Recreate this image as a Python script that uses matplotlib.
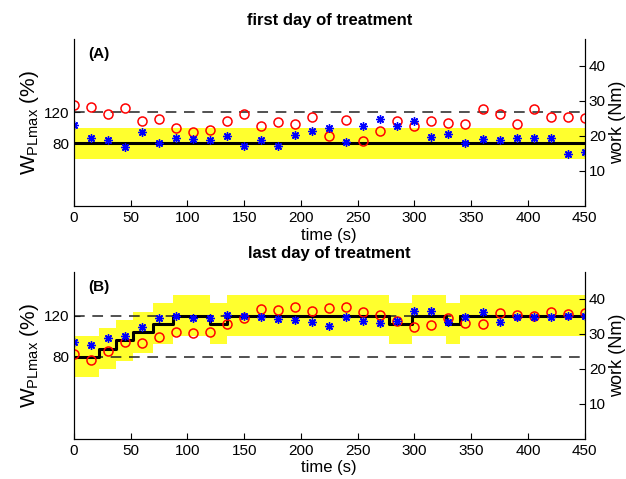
import matplotlib
matplotlib.use("Agg")
import matplotlib.pyplot as plt
import numpy as np

plt.rcParams["font.family"] = ["Liberation Sans", "DejaVu Sans"]
plt.rcParams["mathtext.fontset"] = "custom"
plt.rcParams["mathtext.rm"] = "Liberation Sans"

# --- data, values in % of W_PLmax ---
time_s = np.arange(0, 451, 15)

a_red = [129, 127, 118, 126, 108.5, 111.5, 100, 94.5, 97.5, 108.5, 117.5,
         102.5, 107.5, 105.5, 114, 90, 110, 83, 96, 109, 102.5,
         108.5, 106.5, 104.5, 124, 118, 104.5, 123.5, 114.5, 114, 113]
a_blue = [104, 87.5, 84, 75.5, 94.5, 80, 86.5, 86, 84, 89, 76.5,
          85, 76.5, 90.5, 96.5, 100, 81.5, 102, 111, 103, 109,
          88.5, 91.5, 80, 86, 84, 87, 87, 86.5, 67, 69]
a_target = 80
a_band = 20

b_red = [83, 77, 86, 94, 93, 99.5, 104.5, 103.5, 104.5, 112, 118,
         126.5, 126, 128, 125, 127.5, 128.5, 123.5, 121, 114.5, 109,
         111, 117.5, 112.5, 112, 123, 121, 120, 123.5, 122, 123]
b_blue = [94, 91.5, 98, 100, 109, 117.5, 119.5, 117.5, 117.5, 121, 120,
          119, 117, 115.5, 114, 110, 118.5, 114.5, 113, 114.5, 125,
          125, 114, 119, 124, 114, 118.5, 118.5, 118.5, 120, 120]
b_step_t = [0, 22.5, 37.5, 52.5, 70, 87.5, 120, 135, 278, 297.5, 328, 340, 450]
b_step_v = [80, 88, 96, 104, 112, 120, 112, 120, 112, 120, 112, 120, 120]
b_band = 20

ref_lines = [80, 120]
x_ticks = np.arange(0, 451, 50)
left_ticks = [80, 120]
right_ticks = [10, 20, 30, 40]

YELLOW = "#ffff2e"
ASTERISK = (8, 2, 0)  # MATLAB-style '*'


def draw_panel(ax, t_line, v_line, band, red, blue, dashed, left_top, tag, title):
    t_line = np.asarray(t_line, float)
    v_line = np.asarray(v_line, float)
    ax.fill_between(t_line, v_line - band, v_line + band, step="post",
                    color=YELLOW, linewidth=0, zorder=1)
    for d in dashed:
        ax.axhline(d, color="#222222", linestyle=(0, (7, 5)), linewidth=1.1, zorder=2)
    ax.step(t_line, v_line, where="post", color="black", linewidth=2.2, zorder=3)
    ax.plot(time_s, red, linestyle="none", marker="o", markersize=6.5,
            markerfacecolor="none", markeredgecolor="red", markeredgewidth=1.1, zorder=4)
    ax.plot(time_s, blue, linestyle="none", marker=ASTERISK, markersize=6,
            color="blue", markeredgewidth=1.0, zorder=5)

    ax.set_xlim(0, 450)
    ax.set_ylim(0, left_top)
    ax.set_xticks(x_ticks)
    ax.set_yticks(left_ticks)
    ax.tick_params(direction="in", labelsize=11, length=4)
    ax.set_xlabel("time (s)", fontsize=12, labelpad=2)
    ax.set_ylabel(r"W$_{\mathregular{PLmax}}$ (%)", fontsize=15, labelpad=2)
    ax.set_title(title, fontsize=12, fontweight="bold", pad=10)
    ax.text(0.028, 0.95, tag, transform=ax.transAxes, fontsize=11,
            fontweight="bold", va="top", ha="left")
    ax.spines["top"].set_visible(False)

    ax2 = ax.twinx()
    ax2.set_ylim(0, 47.7)
    ax2.set_yticks(right_ticks)
    ax2.tick_params(direction="in", labelsize=11, length=4, pad=3)
    ax2.set_ylabel("work (Nm)", fontsize=13, labelpad=2)
    ax2.spines["top"].set_visible(False)
    return ax2


fig = plt.figure(figsize=(6.26, 4.79), dpi=100)
ax_a = fig.add_axes([0.118, 0.570, 0.816, 0.349])
ax_b = fig.add_axes([0.118, 0.084, 0.816, 0.349])

draw_panel(ax_a, [0, 450], [a_target, a_target], a_band, a_red, a_blue,
           [120], 214, "(A)", "first day of treatment")
draw_panel(ax_b, b_step_t, b_step_v, b_band, b_red, b_blue,
           ref_lines, 163, "(B)", "last day of treatment")

fig.savefig("out.png", dpi=100)
